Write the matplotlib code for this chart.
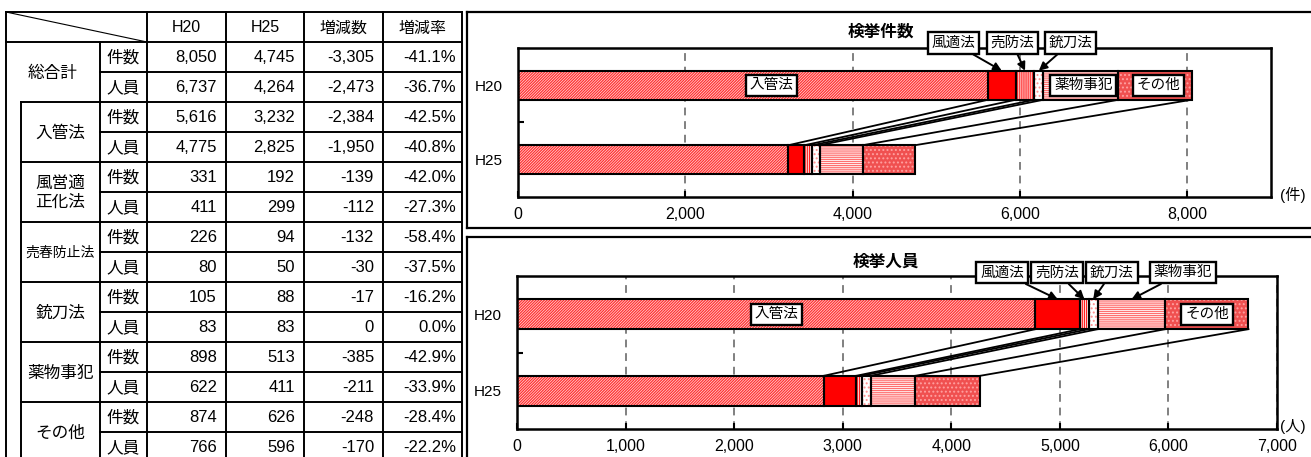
import matplotlib
matplotlib.use('Agg')
import matplotlib.pyplot as plt
import numpy as np

plt.rcParams['font.family'] = ['Liberation Sans', 'Noto Sans CJK JP']
plt.rcParams['hatch.linewidth'] = 0.9

# --- data ---
years = ['H20', 'H25']
offences = ['入管法', '風適法', '売防法', '銃刀法', '薬物事犯', 'その他']
table_names = ['入管法', '風営適\n正化法', '売春防止法', '銃刀法', '薬物事犯', 'その他']
metrics = ['件数', '人員']
header = ['H20', 'H25', '増減数', '増減率']

cases_h20 = [5616, 331, 226, 105, 898, 874]
cases_h25 = [3232, 192, 94, 88, 513, 626]
people_h20 = [4775, 411, 80, 83, 622, 766]
people_h25 = [2825, 299, 50, 83, 411, 596]

# face colour, hatch colour, hatch pattern for each offence
styles = [
    ('#FFE0E0', '#FF3030', '////////////'),
    ('#FF0000', '#FF0000', None),
    ('white', '#FF2020', '||||||||'),
    ('white', '#FF9090', '....'),
    ('white', '#FF7070', '--------'),
    ('#F05050', '#FFA0A0', '....'),
]

W, H = 1311, 457
fig = plt.figure(figsize=(W / 100, H / 100), dpi=100)

# pixel-space layer for the table and panel frames
ov = fig.add_axes([0, 0, 1, 1])
ov.set_xlim(0, W)
ov.set_ylim(H, 0)
ov.axis('off')


def hline(y, x0, x1, lw=1.4):
    ov.plot([x0, x1], [y, y], color='black', lw=lw, solid_capstyle='projecting')


def vline(x, y0, y1, lw=1.4):
    ov.plot([x, x], [y0, y1], color='black', lw=lw, solid_capstyle='projecting')


# --- table ---
cols = [6, 100, 147, 226, 304, 383, 462]
inner_x = 21
top, head_bot, row_h = 12, 42, 30

hline(top, cols[0], cols[-1])
hline(head_bot, cols[0], cols[-1])
for x in [cols[0]] + cols[2:]:
    vline(x, top, H + 5)
vline(cols[1], head_bot, H + 5)
vline(inner_x, head_bot + 2 * row_h, H + 5)
ov.plot([cols[0], cols[2]], [top, head_bot], color='black', lw=0.8)

for i, txt in enumerate(header):
    ov.text((cols[i + 2] + cols[i + 3]) / 2, (top + head_bot) / 2 + 1, txt,
            ha='center', va='center', fontsize=11.5)

rows = [('総合計', sum(cases_h20), sum(cases_h25), sum(people_h20), sum(people_h25))]
for k, name in enumerate(table_names):
    rows.append((name, cases_h20[k], cases_h25[k], people_h20[k], people_h25[k]))

for k, (name, c20, c25, p20, p25) in enumerate(rows):
    y0 = head_bot + 2 * row_h * k
    if k > 0:
        hline(y0, inner_x, cols[-1])
    hline(y0 + row_h, cols[1], cols[-1])
    gx = (cols[0] + cols[1]) / 2 if k == 0 else (inner_x + cols[1]) / 2
    ov.text(gx, y0 + row_h + 1, name, ha='center', va='center',
            fontsize=10 if name == '売春防止法' else 12, linespacing=1.3)
    for j, (a, b) in enumerate([(c20, c25), (p20, p25)]):
        yc = y0 + row_h * j + row_h / 2 + 1
        d = b - a
        r = d / a * 100
        ov.text((cols[1] + cols[2]) / 2, yc, metrics[j], ha='center', va='center', fontsize=12)
        for ci, s in enumerate([f'{a:,}', f'{b:,}', f'{d:,}']):
            ov.text(cols[ci + 3] - 9, yc, s, ha='right', va='center', fontsize=12)
        ov.text(cols[-1] - 6, yc, f'{r:.1f}%', ha='right', va='center', fontsize=12)

# panel frames
for y0, y1 in [(12, 228), (237, H + 5)]:
    hline(y0, 467, W + 5, lw=1.6)
    vline(467, y0, y1, lw=1.6)
    if y1 < H:
        hline(y1, 467, W + 5, lw=1.6)


def px_axes(x0, y0, x1, y1):
    return fig.add_axes([x0 / W, 1 - y1 / H, (x1 - x0) / W, (y1 - y0) / H])


def draw_chart(ax, v20, v25, xmax, ticks, inside, callouts, box_y):
    h = 0.39
    for y, vals in zip([0.5, 1.5], [v20, v25]):
        left = 0
        for v, (fc, hc, hp) in zip(vals, styles):
            ax.barh(y, v, height=h, left=left, color=fc, edgecolor=hc,
                    hatch=hp, linewidth=0, zorder=2)
            ax.barh(y, v, height=h, left=left, fill=False,
                    edgecolor='black', linewidth=1.5, zorder=3)
            left += v
    # series lines between segment boundaries
    for a, b in zip(np.cumsum(v20), np.cumsum(v25)):
        ax.plot([a, b], [0.5 + h / 2, 1.5 - h / 2], color='black', lw=1.3, zorder=3)

    starts = np.concatenate([[0], np.cumsum(v20)[:-1]])
    box = dict(boxstyle='square,pad=0.25', fc='white', ec='black', lw=1.7)
    for idx, tx in inside.items():
        ax.text(tx, 0.5, offences[idx], ha='center', va='center',
                fontsize=10.5, bbox=box, zorder=5)
    for idx, tx in callouts.items():
        target = starts[idx] + v20[idx] / 2
        ax.annotate(offences[idx], xy=(target, 0.5 - h / 2), xytext=(tx, box_y),
                    ha='center', va='center', fontsize=10.5, bbox=box,
                    annotation_clip=False, zorder=5,
                    arrowprops=dict(arrowstyle='-|>', color='black', lw=1.4,
                                    mutation_scale=12, shrinkA=0, shrinkB=0))

    ax.set_xlim(0, xmax)
    ax.set_ylim(2, 0)
    ax.set_xticks(ticks)
    ax.set_xticklabels([f'{t:,}' for t in ticks], fontsize=11.5)
    ax.tick_params(axis='x', direction='in', length=4, width=1.5, pad=7)
    ax.set_yticks([1])
    ax.set_yticklabels([''])
    ax.set_yticks([0.5, 1.5], minor=True)
    ax.set_yticklabels(years, minor=True, fontsize=11)
    ax.tick_params(axis='y', which='major', direction='in', length=4, width=1.5)
    ax.tick_params(axis='y', which='minor', length=0, pad=11)
    for t in ticks[1:]:
        ax.axvline(t, color='#808080', lw=1.4, ls=(0, (4, 3)), zorder=1)
    for s in ax.spines.values():
        s.set_linewidth(1.8)


ax1 = px_axes(518, 48, 1271, 197)
draw_chart(ax1, cases_h20, cases_h25, 9000, list(range(0, 8001, 2000)),
           inside={0: 3025, 4: 6756, 5: 7659},
           callouts={1: 5202, 2: 5907, 3: 6601}, box_y=-0.067)

ax2 = px_axes(517, 276, 1277, 429)
draw_chart(ax2, people_h20, people_h25, 7000, list(range(0, 7001, 1000)),
           inside={0: 2387, 5: 6355},
           callouts={1: 4467, 2: 4974, 3: 5480, 4: 6134}, box_y=-0.046)

fig.text(881 / W, 1 - 32 / H, '検挙件数', ha='center', va='center',
         fontsize=12, fontweight='bold')
fig.text(886 / W, 1 - 262 / H, '検挙人員', ha='center', va='center',
         fontsize=12, fontweight='bold')
fig.text(1293 / W, 1 - 195 / H, '(件)', ha='center', va='center', fontsize=11)
fig.text(1293 / W, 1 - 426 / H, '(人)', ha='center', va='center', fontsize=11)

fig.savefig('out.png', dpi=100)
